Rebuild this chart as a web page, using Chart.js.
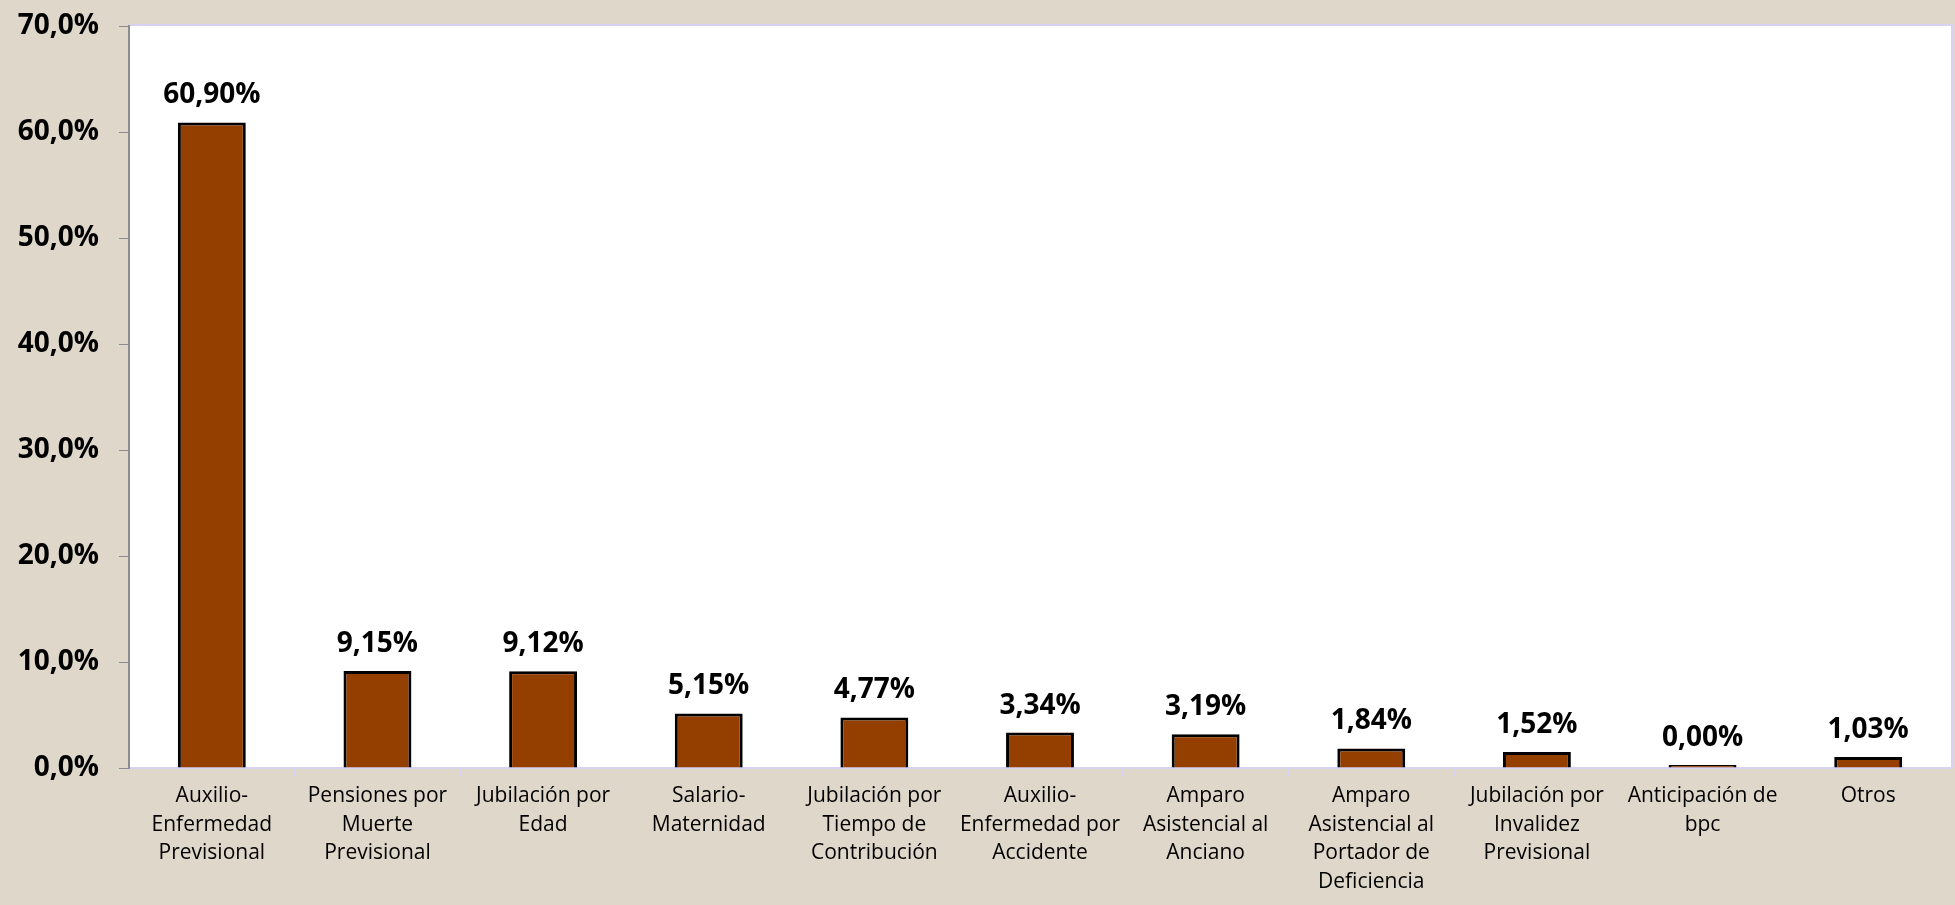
<!DOCTYPE html>
<html lang="es">
<head>
<meta charset="utf-8">
<title>Distribución por especie de beneficio</title>
<script src="https://cdn.jsdelivr.net/npm/chart.js@4.4.1/dist/chart.umd.min.js"></script>
<style>
    html, body { margin: 0; padding: 0; background: #dfd7ca; }
    #wrap { width: 1955px; height: 905px; position: relative; }
</style>
</head>
<body>
<div id="wrap"><canvas id="grafico"></canvas></div>
<script>
'use strict';

const categorias = [
    ['Auxilio-', 'Enfermedad', 'Previsional'],
    ['Pensiones por', 'Muerte', 'Previsional'],
    ['Jubilación por', 'Edad'],
    ['Salario-', 'Maternidad'],
    ['Jubilación por', 'Tiempo de', 'Contribución'],
    ['Auxilio-', 'Enfermedad por', 'Accidente'],
    ['Amparo', 'Asistencial al', 'Anciano'],
    ['Amparo', 'Asistencial al', 'Portador de', 'Deficiencia'],
    ['Jubilación por', 'Invalidez', 'Previsional'],
    ['Anticipación de', 'bpc'],
    ['Otros'],
];
const porcentajes = [60.90, 9.15, 9.12, 5.15, 4.77, 3.34, 3.19, 1.84, 1.52, 0.00, 1.03];
const ejeMin = 0;
const ejeMax = 70;
const ejePaso = 10;

const LAVANDA = '#d9d1f0';
const FUENTE = "'Open Sans', 'DejaVu Sans', sans-serif";

function formatoEje(valor) {
    return valor.toFixed(1).replace('.', ',') + '%';
}

function formatoEtiqueta(valor) {
    return valor.toFixed(2).replace('.', ',') + '%';
}

// fondo blanco del area de trazado y su borde lila
const fondoArea = {
    id: 'fondoArea',
    beforeDraw(chart) {
        const { ctx, chartArea: a } = chart;
        ctx.save();
        ctx.fillStyle = '#ffffff';
        ctx.fillRect(a.left, a.top, a.right - a.left, a.bottom - a.top);
        ctx.strokeStyle = LAVANDA;
        ctx.lineWidth = 2;
        ctx.beginPath();
        ctx.moveTo(a.left, a.top - 1);
        ctx.lineTo(a.right + 1, a.top - 1);
        ctx.lineTo(a.right + 1, a.bottom);
        ctx.stroke();
        ctx.restore();
    },
};

// etiquetas de valor encima de cada barra
const etiquetasValor = {
    id: 'etiquetasValor',
    afterDatasetsDraw(chart) {
        const { ctx } = chart;
        const meta = chart.getDatasetMeta(0);
        ctx.save();
        ctx.font = `bold 28px ${FUENTE}`;
        ctx.fillStyle = '#000000';
        ctx.textAlign = 'center';
        ctx.textBaseline = 'alphabetic';
        meta.data.forEach((barra, i) => {
            ctx.fillText(formatoEtiqueta(porcentajes[i]), barra.x, barra.y - 19);
        });
        ctx.restore();
    },
};

new Chart(document.getElementById('grafico'), {
    type: 'bar',
    data: {
        labels: categorias,
        datasets: [{
            data: porcentajes,
            backgroundColor: '#943e00',
            borderColor: '#000000',
            borderWidth: 3,
            borderSkipped: 'bottom',
            categoryPercentage: 1,
            barPercentage: 0.41,
            minBarLength: 3,
        }],
    },
    options: {
        responsive: true,
        maintainAspectRatio: false,
        animation: false,
        devicePixelRatio: 1,
        layout: { padding: { top: 26, right: 4, left: 0, bottom: 0 } },
        plugins: {
            legend: { display: false },
            tooltip: { enabled: false },
        },
        scales: {
            x: {
                offset: true,
                border: { color: LAVANDA, width: 2 },
                grid: {
                    offset: true,
                    drawOnChartArea: false,
                    tickLength: 8,
                    color: LAVANDA,
                },
                ticks: {
                    color: '#000000',
                    font: { family: FUENTE, size: 21, lineHeight: 1.36 },
                    padding: 6,
                    maxRotation: 0,
                    autoSkip: false,
                },
                afterFit(eje) { eje.height = 137; },
            },
            y: {
                min: ejeMin,
                max: ejeMax,
                border: { color: '#8c8c8c', width: 2 },
                grid: {
                    drawOnChartArea: false,
                    tickLength: 10,
                    color: '#8c8c8c',
                },
                ticks: {
                    stepSize: ejePaso,
                    color: '#000000',
                    font: { family: FUENTE, size: 28, weight: 'bold' },
                    padding: 20,
                    callback: (v) => formatoEje(v),
                },
                afterFit(eje) {
                    eje.width = 129;
                    eje.paddingTop = 0;
                    eje.paddingBottom = 0;
                },
            },
        },
    },
    plugins: [fondoArea, etiquetasValor],
});
</script>
</body>
</html>
